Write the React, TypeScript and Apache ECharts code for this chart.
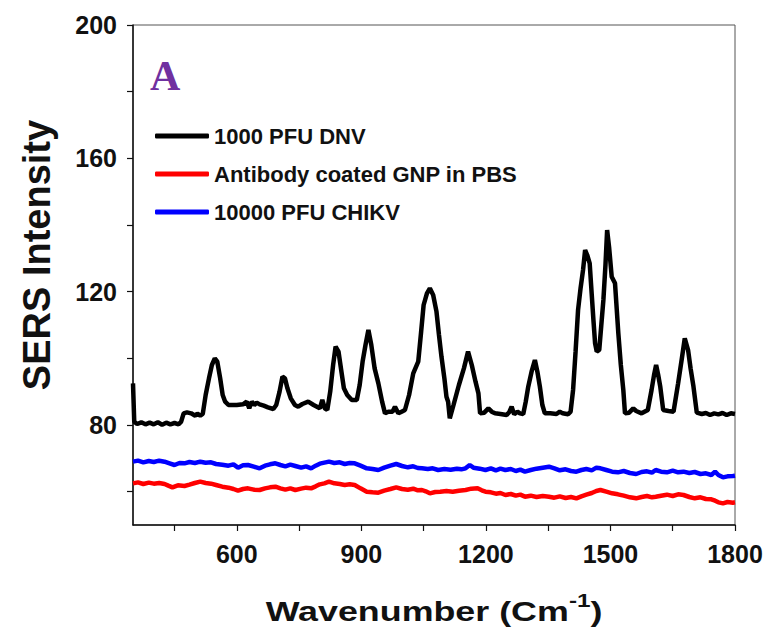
import React, { useEffect, useRef } from "react";
import * as echarts from "echarts";

const xTicks = [450, 600, 750, 900, 1050, 1200, 1350, 1500, 1650, 1800];
const xLabels = [600, 900, 1200, 1500, 1800];
const yTicks = [60, 80, 100, 120, 140, 160, 180, 200];
const yLabels = [80, 120, 160, 200];

const seriesNames = ["1000 PFU DNV", "Antibody coated GNP in PBS", "10000 PFU CHIKV"];
const seriesColors = ["#000000", "#ff0000", "#0000ff"];

const dnvSpectrum: [number, number][] = [
  [350, 92.5], [353, 81], [360, 80.3], [370, 80.8], [380, 80.2], [390, 80.7], [400, 80.2], [410, 80.8],
  [420, 80.1], [430, 80.7], [440, 80.2], [450, 80.6], [460, 80.2], [466, 81], [472, 83.5], [480, 83.8],
  [490, 83.5], [500, 82.8], [505, 83.4], [512, 82.8], [518, 83.3], [525, 89], [533, 94], [540, 98],
  [547, 100], [553, 99], [560, 94], [566, 89], [572, 87], [580, 86], [590, 86], [600, 86], [615, 86.2],
  [624, 87], [630, 85], [636, 87], [642, 86], [648, 86.7], [655, 86.2], [665, 85.8], [675, 85.3],
  [688, 84.8], [695, 86], [703, 90], [710, 94.5], [716, 94], [722, 91], [730, 88], [740, 86], [748, 85.5],
  [758, 86.3], [772, 87], [785, 86], [800, 85], [806, 87.5], [812, 85], [818, 84.5], [825, 90], [832, 98],
  [838, 103.5], [845, 102], [852, 96], [858, 91], [866, 89], [877, 87.5], [889, 87.5], [896, 92],
  [903, 99], [910, 104], [917, 108.5], [924, 104], [932, 97], [941, 92.5], [950, 87], [957, 83.5],
  [965, 84], [975, 84], [981, 85.5], [989, 83.5], [997, 84], [1005, 84.5], [1015, 89], [1025, 95.5],
  [1037, 99], [1044, 108], [1050, 116], [1058, 119.5], [1065, 121], [1073, 119], [1081, 114], [1087, 107],
  [1093, 100.5], [1100, 94], [1105, 88.5], [1109, 87], [1113, 82], [1122, 86], [1135, 92], [1147, 97],
  [1157, 102], [1166, 98], [1175, 93], [1182, 89.5], [1186, 83.5], [1196, 83.7], [1206, 85], [1214, 84],
  [1222, 83.5], [1235, 83.3], [1250, 83], [1256, 83.8], [1262, 85.5], [1268, 83.2], [1276, 84],
  [1282, 83.5], [1290, 83.3], [1296, 87], [1302, 91.5], [1310, 96], [1318, 99.5], [1324, 96],
  [1330, 91.5], [1336, 86], [1342, 83.5], [1355, 83.5], [1370, 83.3], [1378, 84], [1385, 83.5],
  [1398, 83.2], [1404, 84], [1410, 90.5], [1416, 102], [1422, 114.5], [1428, 121], [1434, 126.5],
  [1439, 132.5], [1444, 131], [1450, 128.5], [1455, 119], [1459, 111.5], [1463, 104.5], [1467, 102],
  [1473, 102.5], [1478, 110], [1483, 117.5], [1488, 128], [1492, 138.5], [1497, 133], [1503, 124.5],
  [1511, 122.5], [1515, 115], [1519, 107.5], [1525, 98], [1531, 90.5], [1535, 83.5], [1545, 83.7],
  [1555, 85], [1562, 84.2], [1575, 83.5], [1590, 84.5], [1599, 90.5], [1605, 95], [1610, 98], [1615, 95],
  [1620, 91.5], [1627, 84.5], [1640, 84.2], [1652, 84], [1663, 92.5], [1672, 100], [1679, 106],
  [1687, 102.5], [1693, 97], [1700, 91.5], [1708, 83.7], [1720, 83.3], [1730, 83.6], [1740, 83],
  [1750, 83.5], [1760, 83.2], [1770, 83.6], [1780, 83], [1790, 83.5], [1800, 83.3],
];

const gnpSpectrum: [number, number][] = [
  [350, 62.5], [362, 62.8], [375, 62.3], [388, 62.7], [400, 62.4], [413, 62.6], [426, 62.3], [435, 61.8],
  [445, 61.3], [458, 61.9], [474, 61.7], [486, 62.1], [499, 62.6], [512, 63.0], [525, 62.6], [538, 62.4],
  [550, 62.0], [565, 61.5], [580, 61.2], [592, 60.8], [603, 60.3], [615, 60.8], [627, 61.0], [641, 60.6],
  [655, 60.5], [668, 61.0], [680, 61.3], [693, 61.5], [705, 61.0], [717, 60.6], [729, 61.0], [741, 60.5],
  [755, 60.9], [767, 61.2], [779, 61.0], [790, 61.6], [800, 62.2], [811, 62.5], [822, 63.0], [835, 62.5],
  [848, 62.3], [860, 62.0], [872, 62.2], [884, 62.0], [898, 61.0], [913, 60.0], [927, 59.8], [941, 59.7],
  [955, 60.3], [970, 60.8], [984, 61.3], [998, 60.8], [1012, 60.6], [1025, 60.9], [1036, 60.4],
  [1046, 60.5], [1055, 60.1], [1065, 59.5], [1078, 59.9], [1090, 60.0], [1105, 60.2], [1120, 60.0],
  [1135, 60.3], [1151, 60.5], [1165, 60.9], [1180, 61.0], [1190, 60.4], [1199, 60.0], [1212, 59.8],
  [1224, 59.4], [1235, 59.6], [1247, 59.0], [1260, 59.3], [1272, 58.8], [1283, 59.1], [1294, 58.5],
  [1308, 58.8], [1322, 58.4], [1337, 58.7], [1352, 58.5], [1365, 58.2], [1378, 58.6], [1392, 58.1],
  [1405, 58.4], [1418, 58.0], [1430, 58.6], [1442, 59.1], [1455, 59.6], [1466, 60.2], [1476, 60.5],
  [1490, 60.0], [1504, 59.5], [1518, 59.2], [1532, 58.8], [1547, 58.3], [1562, 58.0], [1575, 58.4],
  [1588, 58.7], [1600, 58.3], [1609, 58.5], [1622, 58.8], [1636, 59.1], [1650, 58.7], [1663, 59.2],
  [1676, 59.0], [1690, 58.4], [1703, 58.0], [1717, 58.3], [1730, 57.8], [1743, 57.7], [1752, 57.3],
  [1760, 56.8], [1771, 56.5], [1782, 56.9], [1795, 56.7], [1800, 56.8],
];

const chikvSpectrum: [number, number][] = [
  [350, 69.0], [362, 69.3], [375, 68.8], [388, 69.2], [400, 68.9], [413, 69.3], [426, 69.0], [438, 68.5],
  [450, 68.0], [462, 68.6], [474, 68.5], [486, 68.9], [499, 68.6], [512, 69.0], [525, 68.7], [538, 68.8],
  [550, 68.3], [565, 68.1], [580, 67.8], [592, 68.2], [603, 67.2], [615, 67.9], [627, 68.0], [641, 67.5],
  [655, 67.0], [668, 67.8], [680, 68.2], [693, 68.5], [705, 68.0], [717, 67.6], [729, 68.1], [741, 67.7],
  [755, 67.2], [767, 67.6], [779, 67.0], [790, 67.8], [800, 68.4], [811, 68.7], [822, 69.0], [835, 68.6],
  [848, 68.8], [860, 68.3], [872, 68.6], [884, 68.5], [898, 67.8], [913, 67.0], [927, 66.8], [941, 66.5],
  [955, 67.2], [970, 67.8], [984, 68.3], [998, 67.7], [1012, 67.3], [1025, 67.6], [1036, 67.1],
  [1046, 67.0], [1060, 66.8], [1072, 67.0], [1085, 66.5], [1100, 66.8], [1115, 66.6], [1130, 66.9],
  [1141, 66.7], [1151, 67.0], [1161, 68.0], [1170, 67.2], [1185, 66.9], [1199, 66.5], [1212, 67.0],
  [1224, 66.4], [1235, 66.9], [1247, 66.5], [1260, 66.8], [1272, 66.2], [1283, 66.6], [1294, 66.0],
  [1308, 66.5], [1322, 66.9], [1337, 67.2], [1352, 67.5], [1365, 67.0], [1378, 66.4], [1392, 66.7],
  [1405, 66.2], [1418, 66.0], [1430, 66.5], [1442, 66.8], [1455, 66.4], [1466, 67.2], [1476, 67.0],
  [1490, 66.5], [1504, 66.0], [1518, 65.8], [1532, 66.2], [1547, 65.6], [1562, 65.3], [1575, 65.9],
  [1588, 66.1], [1600, 65.7], [1609, 66.5], [1622, 66.0], [1636, 65.8], [1650, 66.3], [1663, 65.8],
  [1676, 66.0], [1690, 65.6], [1703, 65.9], [1717, 65.3], [1730, 65.5], [1743, 65.0], [1752, 66.0],
  [1760, 65.0], [1771, 64.3], [1782, 64.6], [1795, 64.7], [1800, 64.8],
];

const FONT = "'Liberation Sans', Arial, Helvetica, sans-serif";

export default function App() {
  const ref = useRef<HTMLDivElement>(null);
  useEffect(() => {
    if (!ref.current) return;
    const chart = echarts.init(ref.current, null, { renderer: "svg" });
    const axisCommon = {
      type: "value" as const,
      splitLine: { show: false },
      axisLine: { show: true, onZero: false, lineStyle: { color: "#111", width: 1.5 } },
      axisTick: { show: true, inside: false, length: 6, lineStyle: { color: "#111", width: 1.2 } },
      axisLabel: {
        fontSize: 25,
        fontWeight: "bold" as const,
        color: "#111",
        fontFamily: FONT,
        formatter: (v: number) => String(v),
      },
    };
    chart.setOption({
      animation: false,
      backgroundColor: "#ffffff",
      grid: { left: 133, right: 33, top: 25, bottom: 106, show: true, borderColor: "#555", borderWidth: 1 },
      xAxis: {
        ...axisCommon,
        min: 350,
        max: 1800,
        axisTick: { ...axisCommon.axisTick, customValues: xTicks },
        axisLabel: { ...axisCommon.axisLabel, customValues: xLabels, margin: 16 },
      },
      yAxis: {
        ...axisCommon,
        min: 50,
        max: 200,
        axisTick: { ...axisCommon.axisTick, customValues: yTicks },
        axisLabel: { ...axisCommon.axisLabel, customValues: yLabels, margin: 16 },
      },
      legend: {
        data: seriesNames,
        orient: "vertical",
        left: 150,
        top: 119,
        icon: "roundRect",
        itemWidth: 54,
        itemHeight: 5,
        itemGap: 14,
        textStyle: { fontSize: 22, fontWeight: "bold", color: "#111", fontFamily: FONT, lineHeight: 24 },
      },
      graphic: [
        {
          type: "text",
          left: 150,
          top: 55,
          style: { text: "A", font: "bold 42px 'Liberation Serif', 'Times New Roman', serif", fill: "#7030A0" },
        },
        {
          type: "text",
          x: 37,
          y: 255,
          rotation: Math.PI / 2,
          style: {
            text: "SERS Intensity",
            font: `bold 38px ${FONT}`,
            fill: "#111",
            align: "center",
            verticalAlign: "middle",
          },
        },
        {
          type: "text",
          x: 434,
          y: 608,
          scaleX: 1.28,
          style: {
            text: "{a|Wavenumber (Cm}{b|-1}{a|)}",
            align: "center",
            verticalAlign: "middle",
            fill: "#111",
            rich: {
              a: { fontSize: 28, fontWeight: "bold", fontFamily: FONT, lineHeight: 34, verticalAlign: "bottom", fill: "#111" },
              b: { fontSize: 19, fontWeight: "bold", fontFamily: FONT, lineHeight: 20, verticalAlign: "top", fill: "#111" },
            },
          },
        },
      ],
      series: [
        { name: seriesNames[0], type: "line", data: dnvSpectrum, showSymbol: false, color: seriesColors[0], lineStyle: { width: 4.5, color: seriesColors[0] }, z: 5 },
        { name: seriesNames[1], type: "line", data: gnpSpectrum, showSymbol: false, color: seriesColors[1], lineStyle: { width: 4.5, color: seriesColors[1] }, z: 3 },
        { name: seriesNames[2], type: "line", data: chikvSpectrum, showSymbol: false, color: seriesColors[2], lineStyle: { width: 4.5, color: seriesColors[2] }, z: 4 },
      ],
    });
    return () => chart.dispose();
  }, []);
  return (
    <div
      ref={ref}
      style={{ position: "absolute", left: 0, top: 0, width: 768, height: 631, background: "#fff" }}
    />
  );
}
